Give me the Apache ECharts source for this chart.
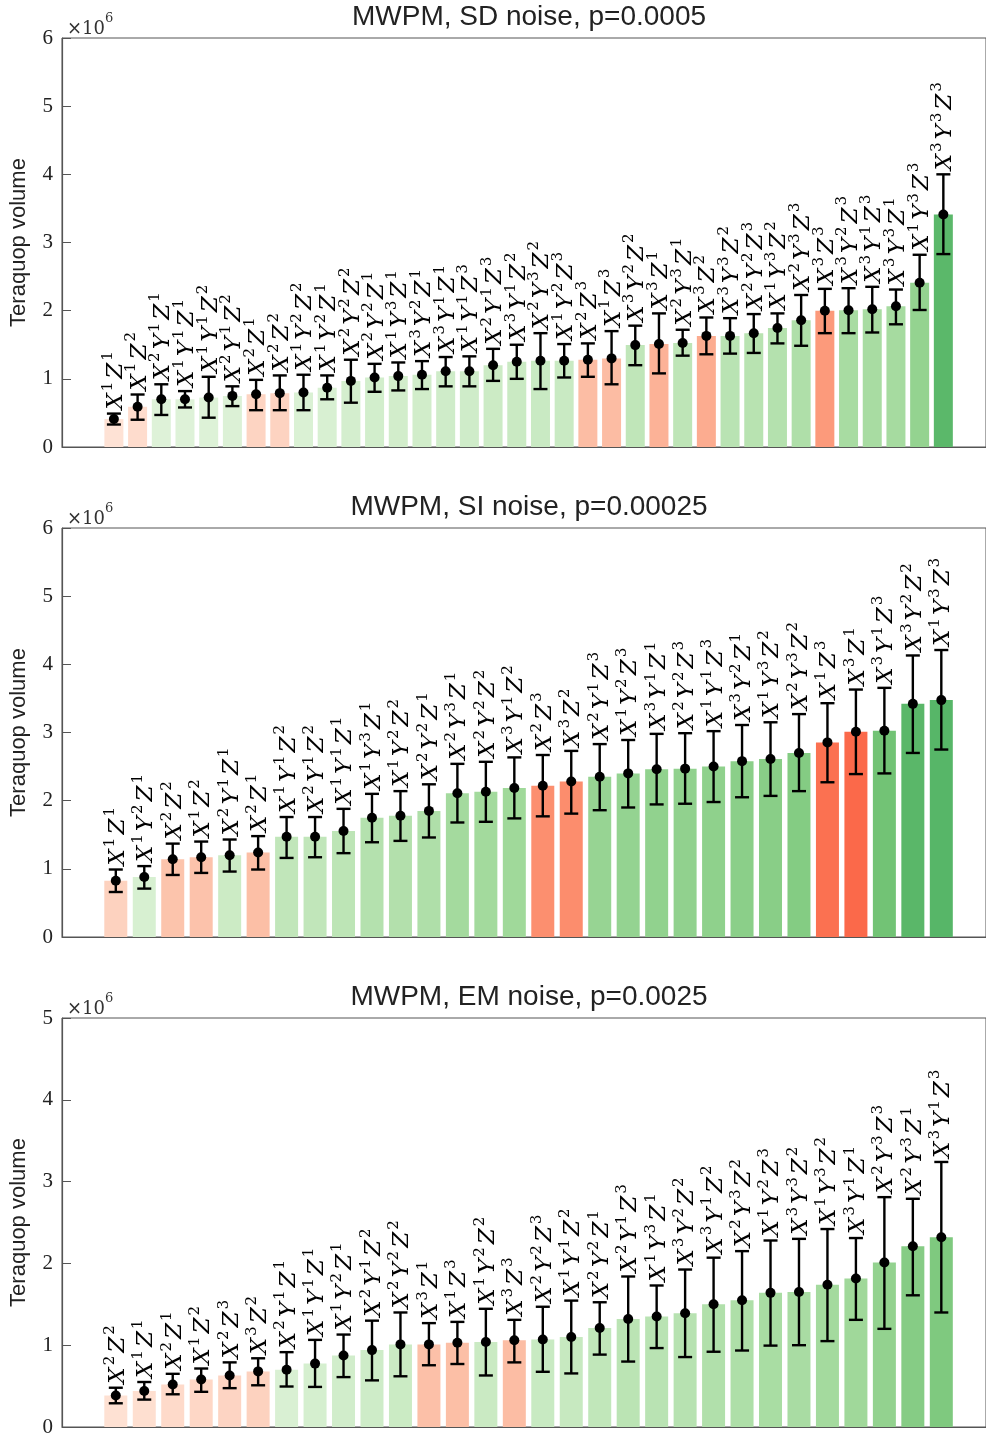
<!DOCTYPE html>
<html>
<head>
<meta charset="utf-8">
<script src="https://cdn.jsdelivr.net/npm/echarts@6/dist/echarts.min.js"></script>
<style>
html, body { margin: 0; padding: 0; background: #fff; }
#chart { width: 986px; height: 1441px; }
</style>
</head>
<body>
<div id="chart"></div>
<script>
// values are in units of 1e6 (axis shows x10^6)
const titles = ["MWPM, SD noise, p=0.0005", "MWPM, SI noise, p=0.00025", "MWPM, EM noise, p=0.0025"];
const yMax = [6, 6, 5];

// SD noise
const sdNames = ["X1Z1", "X1Z2", "X2Y1Z1", "X1Y1Z1", "X1Y1Z2", "X2Y1Z2", "X2Z1", "X2Z2", "X1Y2Z2", "X1Y2Z1",
  "X2Y2Z2", "X2Y2Z1", "X1Y3Z1", "X3Y2Z1", "X3Y1Z1", "X1Y1Z3", "X2Y1Z3", "X3Y1Z2", "X2Y3Z2", "X1Y2Z3",
  "X2Z3", "X1Z3", "X3Y2Z2", "X3Z1", "X2Y3Z1", "X3Z2", "X3Y3Z2", "X2Y2Z3", "X1Y3Z2", "X2Y3Z3",
  "X3Z3", "X3Y2Z3", "X3Y1Z3", "X3Y3Z1", "X1Y3Z3", "X3Y3Z3"];
const sdMean = [0.41, 0.59, 0.70, 0.70, 0.725, 0.75, 0.775, 0.79, 0.80, 0.87,
  0.97, 1.02, 1.04, 1.06, 1.11, 1.11, 1.20, 1.25, 1.265, 1.265,
  1.28, 1.30, 1.495, 1.51, 1.525, 1.63, 1.63, 1.67, 1.745, 1.86,
  2.00, 2.005, 2.02, 2.065, 2.41, 3.41];
const sdLow = [0.33, 0.40, 0.47, 0.58, 0.43, 0.60, 0.54, 0.54, 0.54, 0.70,
  0.65, 0.81, 0.83, 0.85, 0.89, 0.89, 0.97, 1.00, 0.85, 1.02,
  1.03, 0.92, 1.20, 1.08, 1.34, 1.36, 1.37, 1.38, 1.52, 1.485,
  1.67, 1.67, 1.68, 1.80, 2.01, 2.83];
const sdHigh = [0.49, 0.77, 0.92, 0.82, 1.03, 0.89, 0.985, 1.05, 1.06, 1.05,
  1.28, 1.22, 1.24, 1.26, 1.32, 1.33, 1.44, 1.50, 1.67, 1.51,
  1.52, 1.70, 1.78, 1.96, 1.72, 1.90, 1.89, 1.95, 1.96, 2.23,
  2.32, 2.33, 2.35, 2.31, 2.82, 4.00];

// SI noise
const siNames = ["X1Z1", "X1Y2Z1", "X2Z2", "X1Z2", "X2Y1Z1", "X2Z1", "X1Y1Z2", "X2Y1Z2", "X1Y1Z1", "X1Y3Z1",
  "X1Y2Z2", "X2Y2Z1", "X2Y3Z1", "X2Y2Z2", "X3Y1Z2", "X2Z3", "X3Z2", "X2Y1Z3", "X1Y2Z3", "X3Y1Z1",
  "X2Y2Z3", "X1Y1Z3", "X3Y2Z1", "X1Y3Z2", "X2Y3Z2", "X1Z3", "X3Z1", "X3Y1Z3", "X3Y2Z2", "X1Y3Z3"];
const siMean = [0.825, 0.88, 1.14, 1.17, 1.20, 1.24, 1.47, 1.47, 1.555, 1.75,
  1.78, 1.85, 2.11, 2.13, 2.185, 2.22, 2.28, 2.35, 2.40, 2.46,
  2.47, 2.50, 2.58, 2.61, 2.70, 2.855, 3.01, 3.025, 3.42, 3.475];
const siLow = [0.66, 0.71, 0.91, 0.94, 0.96, 0.99, 1.16, 1.17, 1.23, 1.39,
  1.41, 1.46, 1.68, 1.69, 1.74, 1.77, 1.81, 1.86, 1.90, 1.945,
  1.955, 1.98, 2.05, 2.07, 2.14, 2.27, 2.39, 2.40, 2.70, 2.75];
const siHigh = [0.99, 1.04, 1.37, 1.40, 1.43, 1.48, 1.76, 1.76, 1.88, 2.10,
  2.14, 2.24, 2.54, 2.57, 2.635, 2.67, 2.73, 2.83, 2.89, 2.98,
  2.99, 3.02, 3.11, 3.15, 3.27, 3.43, 3.63, 3.655, 4.13, 4.21];

// EM noise
const emNames = ["X2Z2", "X1Z1", "X2Z1", "X1Z2", "X2Z3", "X3Z2", "X2Y1Z1", "X1Y1Z1", "X1Y2Z1", "X2Y1Z2",
  "X2Y2Z2", "X3Z1", "X1Z3", "X1Y2Z2", "X3Z3", "X2Y2Z3", "X1Y1Z2", "X2Y2Z1", "X2Y1Z3", "X1Y3Z1",
  "X3Y2Z2", "X3Y1Z2", "X2Y3Z2", "X1Y2Z3", "X3Y3Z2", "X1Y3Z2", "X3Y1Z1", "X2Y3Z3", "X2Y3Z1", "X3Y1Z3"];
const emMean = [0.385, 0.44, 0.52, 0.58, 0.63, 0.68, 0.70, 0.775, 0.875, 0.94,
  1.01, 1.01, 1.03, 1.04, 1.06, 1.07, 1.10, 1.21, 1.32, 1.35,
  1.39, 1.50, 1.55, 1.64, 1.65, 1.74, 1.815, 2.01, 2.21, 2.32];
const emLow = [0.29, 0.335, 0.40, 0.43, 0.475, 0.51, 0.495, 0.49, 0.61, 0.57,
  0.62, 0.755, 0.77, 0.63, 0.79, 0.675, 0.655, 0.885, 0.80, 0.965,
  0.855, 0.92, 0.935, 0.995, 1.00, 1.05, 1.31, 1.20, 1.61, 1.40];
const emHigh = [0.48, 0.55, 0.65, 0.715, 0.79, 0.84, 0.915, 1.065, 1.13, 1.30,
  1.40, 1.27, 1.285, 1.445, 1.31, 1.47, 1.545, 1.525, 1.84, 1.73,
  1.925, 2.07, 2.15, 2.28, 2.30, 2.42, 2.31, 2.81, 2.79, 3.24];

const panels = [
  { names: sdNames, mean: sdMean, low: sdLow, high: sdHigh, top: 38, xmin: -1.19, xmax: 37.8, barW: 19, gain: 1.2 },
  { names: siNames, mean: siMean, low: siLow, high: siHigh, top: 528, xmin: -0.89, xmax: 31.57, barW: 23, gain: 1.2 },
  { names: emNames, mean: emMean, low: emLow, high: emHigh, top: 1018, xmin: -0.89, xmax: 31.57, barW: 23, gain: 1.45 }
];

const greens = ["#f7fcf5", "#e5f5e0", "#c7e9c0", "#a1d99b", "#74c476", "#41ab5d", "#238b45"];
const reds = ["#fff5f0", "#fee0d2", "#fcbba1", "#fc9272", "#fb6a4a", "#ef3b2c", "#cb181d"];

function hex2rgb(h) {
  return [parseInt(h.substr(1, 2), 16), parseInt(h.substr(3, 2), 16), parseInt(h.substr(5, 2), 16)];
}
function pick(pal, t) {
  t = Math.max(0, Math.min(pal.length - 1.001, t));
  const i = Math.floor(t), f = t - i;
  const a = hex2rgb(pal[i]), b = hex2rgb(pal[i + 1]);
  return "rgb(" + a.map((c, k) => Math.round(c + (b[k] - c) * f)).join(",") + ")";
}
function barColor(name, v, gain) {
  const pal = name.indexOf("Y") < 0 ? reds : greens;
  return pick(pal, 0.4 + v * gain);
}

// "X1Y2Z3" -> rich tokens with superscripts
function richLabel(name) {
  let s = "";
  for (let i = 0; i < name.length; i += 2) {
    s += "{v|" + name[i] + "}{s|" + name[i + 1] + "}";
  }
  return s;
}
const RICH = {
  v: { fontFamily: "DejaVu Serif", fontStyle: "italic", fontWeight: "normal", fontSize: 23, lineHeight: 27,
       verticalAlign: "bottom", color: "#1a1a1a", padding: [0, 2, 0, 1] },
  s: { fontFamily: "DejaVu Serif", fontWeight: "normal", fontSize: 15, lineHeight: 12,
       verticalAlign: "top", color: "#1a1a1a", padding: [0, 2, 0, 0] }
};

function errorItem(names) {
  return function (params, api) {
    const x = api.value(0);
    const c = api.coord([x, api.value(1)]);
    const lo = api.coord([x, api.value(2)]);
    const hi = api.coord([x, api.value(3)]);
    const line = { stroke: "#000", lineWidth: 2.4 };
    const cap = 7;
    return {
      type: "group",
      children: [
        { type: "line", shape: { x1: c[0], y1: lo[1], x2: c[0], y2: hi[1] }, style: line },
        { type: "line", shape: { x1: c[0] - cap, y1: lo[1], x2: c[0] + cap, y2: lo[1] }, style: line },
        { type: "line", shape: { x1: c[0] - cap, y1: hi[1], x2: c[0] + cap, y2: hi[1] }, style: line },
        { type: "circle", shape: { cx: c[0], cy: c[1], r: 5 }, style: { fill: "#000" } },
        {
          type: "text", x: c[0], y: hi[1] - 3, rotation: Math.PI / 2,
          style: { text: richLabel(names[params.dataIndex]), rich: RICH, align: "left", verticalAlign: "middle" }
        }
      ]
    };
  };
}

const axisGray = "#555";
const option = {
  animation: false,
  backgroundColor: "#fff",
  title: [],
  grid: [],
  xAxis: [],
  yAxis: [],
  series: []
};

panels.forEach((p, k) => {
  option.title.push({
    text: titles[k], left: 524, top: p.top - 40, textAlign: "center",
    textStyle: { fontFamily: "Liberation Sans", fontSize: 28, fontWeight: "normal", color: "#222" }
  });
  option.title.push({
    text: "{a|×10}{b|6}", left: 62, top: p.top - 31,
    textStyle: {
      rich: {
        a: { fontFamily: "DejaVu Serif", fontWeight: "normal", fontSize: 18, color: "#333", verticalAlign: "bottom", lineHeight: 26 },
        b: { fontFamily: "DejaVu Serif", fontWeight: "normal", fontSize: 13, color: "#333", verticalAlign: "top", lineHeight: 14 }
      }
    }
  });
  option.grid.push({
    left: 62, right: 0, top: p.top, height: 409,
    outerBoundsMode: "none", containLabel: false,
    show: true, borderColor: axisGray, borderWidth: 1, backgroundColor: "transparent"
  });
  option.xAxis.push({
    type: "value", gridIndex: k, min: p.xmin, max: p.xmax,
    axisLine: { show: true, onZero: false, lineStyle: { color: axisGray, width: 1.2 } },
    axisTick: { show: false }, axisLabel: { show: false }, splitLine: { show: false }
  });
  option.yAxis.push({
    type: "value", gridIndex: k, min: 0, max: yMax[k], interval: 1,
    name: "Teraquop volume", nameLocation: "middle", nameGap: 32,
    nameTextStyle: { fontFamily: "Liberation Sans", fontSize: 22, color: "#222" },
    axisLine: { show: true, onZero: false, lineStyle: { color: axisGray, width: 1.2 } },
    axisTick: { show: true, inside: true, length: 9, lineStyle: { color: axisGray } },
    axisLabel: { fontFamily: "Liberation Serif", fontSize: 21, color: "#222", margin: 9 },
    splitLine: { show: false }
  });
  option.series.push({
    type: "bar", xAxisIndex: k, yAxisIndex: k, barWidth: p.barW,
    data: p.mean.map((v, i) => ({
      value: [i + 1, v],
      itemStyle: { color: barColor(p.names[i], v, p.gain) }
    }))
  });
  option.series.push({
    type: "custom", xAxisIndex: k, yAxisIndex: k, z: 5,
    renderItem: errorItem(p.names),
    data: p.mean.map((v, i) => [i + 1, v, p.low[i], p.high[i]])
  });
});

const chart = echarts.init(document.getElementById("chart"));
chart.setOption(option);
</script>
</body>
</html>
